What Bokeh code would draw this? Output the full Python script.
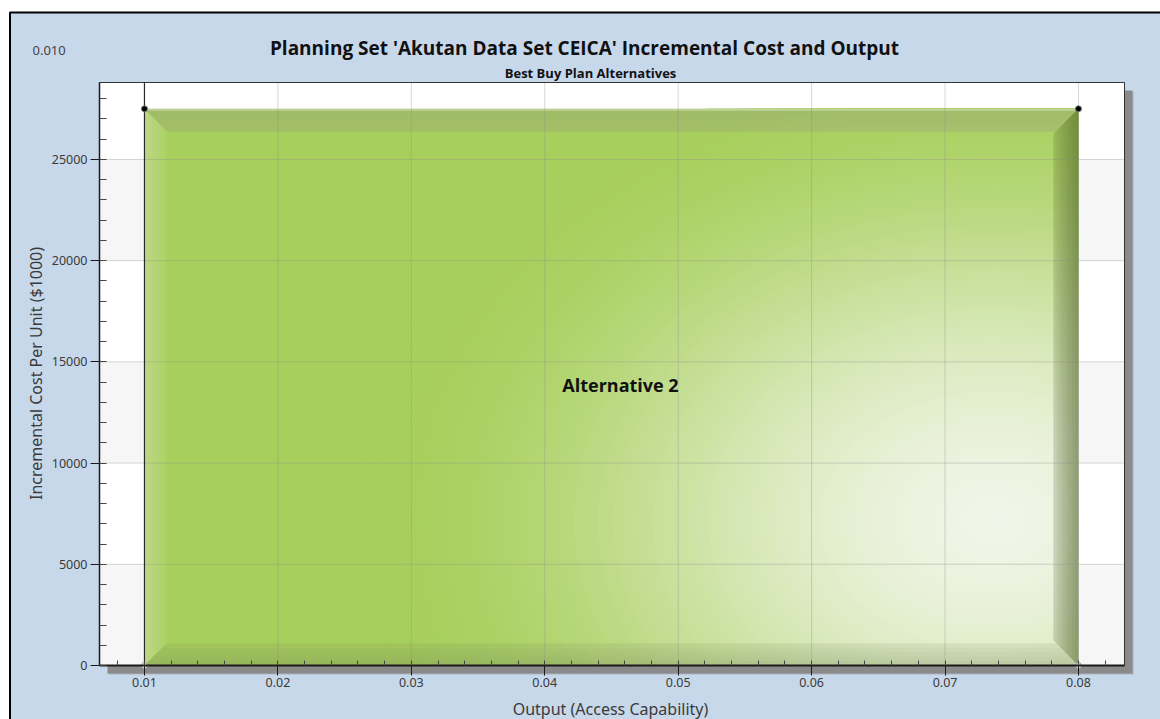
import numpy as np
from bokeh.plotting import figure
from bokeh.models import (Range1d, Label, LinearAxis, SingleIntervalTicker,
                          NumeralTickFormatter, ColumnDataSource)
from bokeh.embed import file_html
from bokeh.resources import INLINE
from bokeh.core.properties import value

# ---------------- data ----------------
title_text = "Planning Set 'Akutan Data Set CEICA' Incremental Cost and Output"
subtitle_text = "Best Buy Plan Alternatives"
corner_text = "0.010"
x_axis_label = "Output (Access Capability)"
y_axis_label = "Incremental Cost Per Unit ($1000)"

alternatives = ["Alternative 2"]
output_start = [0.01]
output_end = [0.08]
incremental_cost = [27500]

x_lim = [0.00663, 0.08345]
y_lim = [0, 28800]
x_tick_interval = 0.01
y_tick_interval = 5000
x_grid_values = [0.02, 0.03, 0.04, 0.05, 0.06, 0.07, 0.08]
y_grid_values = [5000, 10000, 15000, 20000, 25000]
shaded_band_bottoms = [0, 10000, 20000]

# ---------------- layout (pixels) ----------------
W, H = 1160, 719
PL, PT, PR, PB = 99, 82, 1124, 665          # plot area box
BG_BLUE = "#c8d8eb"
BAR_RGB = (167, 207, 92)

sx = (x_lim[1] - x_lim[0]) / (PR - PL)
sy = (y_lim[1] - y_lim[0]) / (PB - PT)


def X(px):
    return x_lim[0] + (px - PL) * sx


def Y(py):
    return y_lim[1] - (py - PT) * sy


p = figure(width=W, height=H, x_range=Range1d(X(0), X(W)), y_range=Range1d(Y(H), Y(0)),
           x_axis_type=None, y_axis_type=None, output_backend="svg",
           toolbar_location=None, min_border=0,
           background_fill_color="white", border_fill_color="white")
p.outline_line_color = None

# outer panel + black border
p.quad(left=X(9.5), right=X(W + 40), top=Y(12), bottom=Y(H + 40),
       fill_color=BG_BLUE, line_color="black", line_width=2)
# drop shadow of the plot area
p.quad(left=X(PL + 9), right=X(PR + 9), top=Y(PT + 9), bottom=Y(PB + 9),
       fill_color="#aab3be", line_color=None)
p.quad(left=X(PL + 8), right=X(PR + 8), top=Y(PT + 8), bottom=Y(PB + 8),
       fill_color="#8a8a8a", line_color=None)
# plot area + bands
p.quad(left=x_lim[0], right=x_lim[1], bottom=y_lim[0], top=y_lim[1],
       fill_color="white", line_color=None)
p.quad(left=x_lim[0], right=x_lim[1], bottom=shaded_band_bottoms,
       top=[b + y_tick_interval for b in shaded_band_bottoms],
       fill_color="#f6f6f6", line_color=None)

# ---------------- bar ----------------
src = ColumnDataSource(dict(name=alternatives, left=output_start, right=output_end,
                            top=incremental_cost, bottom=[0] * len(alternatives),
                            mx=[(a + b) / 2 for a, b in zip(output_start, output_end)],
                            my=[c / 2 for c in incremental_cost]))
p.quad(left="left", right="right", bottom="bottom", top="top", source=src,
       fill_color="#%02x%02x%02x" % BAR_RGB, line_color=None)

x0, x1 = output_start[0], output_end[0]
y0, y1 = 0, incremental_cost[0]

# radial glow: nested opaque ellipses clipped to the bar, colour blended to white
cx = x1 - 0.09 * (x1 - x0)
cy = 0.26 * y1
rx_max = 0.68 * (x1 - x0)
ry_max = 0.85 * y1
theta = np.linspace(0, 2 * np.pi, 120, endpoint=False)
n_layers = 80
gxs, gys, gcols = [], [], []
for k in range(n_layers):
    r = 1 - k / n_layers
    f = 0.97 * (1 - np.exp(-2.6 * (1 - r) ** 2.1))
    ex = np.clip(cx + rx_max * r * np.cos(theta), x0, x1)
    ey = np.clip(cy + ry_max * r * np.sin(theta), y0, y1)
    rgb = [int(round(c + (250 - c) * f)) for c in BAR_RGB]
    gxs.append(list(ex))
    gys.append(list(ey))
    gcols.append("#%02x%02x%02x" % tuple(rgb))
p.patches(xs=gxs, ys=gys, fill_color=gcols, line_color=None)


def bevel(side, depth_px):
    dx, dy = depth_px * sx, depth_px * sy
    if side == "right":
        return [x1, x1, x1 - dx, x1 - dx], [y0, y1, y1 - dy, y0 + dy]
    if side == "left":
        return [x0, x0, x0 + dx, x0 + dx], [y0, y1, y1 - dy, y0 + dy]
    if side == "top":
        return [x0, x1, x1 - dx, x0 + dx], [y1, y1, y1 - dy, y1 - dy]
    return [x0, x1, x1 - dx, x0 + dx], [y0, y0, y0 + dy, y0 + dy]


def bevel_layers(side, width_px, color, base_alpha, n, alpha):
    bx, by = bevel(side, width_px)
    p.patch(bx, by, fill_color=color, fill_alpha=base_alpha, line_color=None)
    xs, ys = [], []
    for k in range(n):
        bx, by = bevel(side, width_px * (k + 1) / n)
        xs.append(bx)
        ys.append(by)
    p.patches(xs, ys, fill_color=color, fill_alpha=alpha, line_color=None)


bevel_layers("left", 22, "white", 0.04, 6, 0.045)
bevel_layers("bottom", 22, "#7f8a66", 0.10, 5, 0.05)
bevel_layers("top", 23, "#9a9a86", 0.26, 4, 0.03)
tx, ty = bevel("top", 2)
p.patch(tx, ty, fill_color="white", fill_alpha=0.35, line_color=None)
bevel_layers("right", 25, "#4a6426", 0.16, 8, 0.075)

# grid lines (drawn over the bar, translucent)
p.segment(x0=x_grid_values, y0=[y_lim[0]] * len(x_grid_values),
          x1=x_grid_values, y1=[y_lim[1]] * len(x_grid_values),
          line_color="#8c8c8c", line_alpha=0.35, line_width=1)
p.segment(x0=[x_lim[0]] * len(y_grid_values), y0=y_grid_values,
          x1=[x_lim[1]] * len(y_grid_values), y1=y_grid_values,
          line_color="#8c8c8c", line_alpha=0.35, line_width=1)
# dark vertical line at the first output value
p.segment(x0=[x0], y0=[y_lim[0]], x1=[x0], y1=[y_lim[1]],
          line_color="#2a2a2a", line_width=1.2)
# plot area outline
p.quad(left=x_lim[0], right=x_lim[1], bottom=y_lim[0], top=y_lim[1],
       fill_color=None, line_color="#333333", line_width=1)

# corner points
p.scatter(x=[x0, x1], y=[y1, y1], size=6, fill_color="black", line_color="#777777")
p.scatter(x=[x0, x1], y=[y0, y0], size=6, fill_color="#eeeedd", line_color="#999999")

# bar label
p.text(x="mx", y="my", text="name", source=src, text_font=value("Open Sans"),
       text_font_style="bold", text_font_size="18px", text_color="#111111",
       text_align="center", text_baseline="middle", x_offset=9, y_offset=-2)

# ---------------- axes ----------------
xt = SingleIntervalTicker(interval=x_tick_interval, num_minor_ticks=5)
yt = SingleIntervalTicker(interval=y_tick_interval, num_minor_ticks=5)
xaxis = LinearAxis(ticker=xt, formatter=NumeralTickFormatter(format="0.00"),
                   fixed_location=y_lim[0], bounds=(x_lim[0], x_lim[1]))
yaxis = LinearAxis(ticker=yt, formatter=NumeralTickFormatter(format="0"),
                   fixed_location=x_lim[0], bounds=(y_lim[0], y_lim[1]))
for ax in (xaxis, yaxis):
    ax.major_label_text_font = "Noto Sans"
    ax.major_label_text_font_size = "12.5px"
    ax.major_label_text_color = "#3a3a3a"
    ax.axis_line_color = "#1a1a1a"
    ax.major_tick_line_color = "#1a1a1a"
    ax.minor_tick_line_color = "#444444"
    ax.major_tick_in = 0
    ax.minor_tick_out = 0
xaxis.axis_line_width = 2
yaxis.axis_line_width = 1.5
xaxis.major_tick_out = 10
xaxis.minor_tick_in = 5
xaxis.major_label_standoff = 2
yaxis.major_tick_out = 9
yaxis.minor_tick_in = 7
yaxis.major_label_standoff = 3
p.add_layout(xaxis, "below")
p.add_layout(yaxis, "left")


# ---------------- texts ----------------
def plabel(px, py, text, font, size, bold=False, color="#111111", align="center",
           baseline="alphabetic", angle=0.0):
    p.add_layout(Label(x=X(px), y=Y(py), text=text, text_font=font, text_font_size=size,
                       text_font_style="bold" if bold else "normal",
                       text_color=color, text_align=align, text_baseline=baseline,
                       angle=angle))


plabel(584, 47, title_text, "Open Sans", "19px", bold=True)
plabel(590, 72, subtitle_text, "Open Sans", "13px", bold=True)
plabel(32, 50, corner_text, "Noto Sans", "13px", color="#444444", align="left")
plabel(610, 708, x_axis_label, "Noto Sans", "16px", color="#3a3a3a")
plabel(35, 373, y_axis_label, "Noto Sans", "16px", color="#3a3a3a",
       baseline="middle", angle=np.pi / 2)

open("out.html", "w").write(file_html(p, INLINE))
